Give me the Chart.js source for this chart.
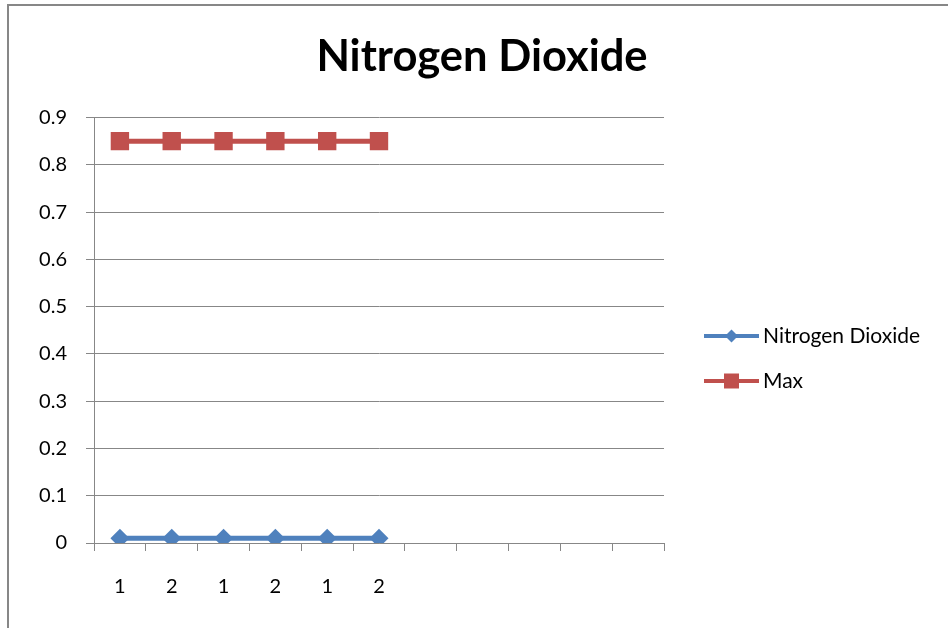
<!DOCTYPE html>
<html>
<head>
<meta charset="utf-8">
<script src="https://cdn.jsdelivr.net/npm/chart.js@4"></script>
<style>
  html, body { margin: 0; padding: 0; background: #fff; }
  #wrap { width: 948px; height: 628px; }
</style>
</head>
<body>
<div id="wrap"><canvas id="chart" width="948" height="628"></canvas></div>
<script>
// values
const categories = ["1", "2", "1", "2", "1", "2", "", "", "", "", ""];
const no2Values = [0.01, 0.01, 0.01, 0.01, 0.01, 0.01];
const maxValues = [0.85, 0.85, 0.85, 0.85, 0.85, 0.85];
const yTickValues = [0, 0.1, 0.2, 0.3, 0.4, 0.5, 0.6, 0.7, 0.8, 0.9];

const gridGrey = "#878787";
Chart.defaults.font.family = "Lato, 'Open Sans', sans-serif";
Chart.defaults.color = "#000";

// outer chart frame + Excel-style legend (line with marker)
const frameAndLegend = {
  id: "frameAndLegend",
  beforeDraw(chart) {
    const ctx = chart.ctx;
    ctx.save();
    ctx.strokeStyle = gridGrey;
    ctx.lineWidth = 2;
    ctx.beginPath();
    ctx.moveTo(8, 628);
    ctx.lineTo(8, 5);
    ctx.lineTo(948, 5);
    ctx.stroke();
    ctx.restore();
  },
  afterDraw(chart) {
    const ctx = chart.ctx;
    ctx.save();
    chart.data.datasets.forEach((ds, i) => {
      const y = 336 + i * 45;
      ctx.strokeStyle = ds.borderColor;
      ctx.lineWidth = 4;
      ctx.beginPath();
      ctx.moveTo(704, y);
      ctx.lineTo(759, y);
      ctx.stroke();
      ctx.fillStyle = ds.backgroundColor;
      ctx.beginPath();
      if (ds.pointStyle === "rectRot") {
        ctx.moveTo(731.5 - 6.5, y);
        ctx.lineTo(731.5, y - 6.5);
        ctx.lineTo(731.5 + 6.5, y);
        ctx.lineTo(731.5, y + 6.5);
        ctx.closePath();
      } else {
        ctx.rect(724, y - 7.5, 15, 15);
      }
      ctx.fill();
      ctx.fillStyle = "#000";
      ctx.font = "21px Lato, 'Open Sans', sans-serif";
      ctx.textBaseline = "middle";
      ctx.fillText(ds.label, 763, y);
    });
    ctx.restore();
  }
};

const chart = new Chart(document.getElementById("chart"), {
  type: "line",
  data: {
    labels: categories,
    datasets: [
      {
        label: "Nitrogen Dioxide",
        data: no2Values,
        borderColor: "#4F81BD",
        backgroundColor: "#4F81BD",
        borderWidth: 5,
        pointStyle: "rectRot",
        pointRadius: 9.5,
        pointBorderWidth: 0,
        tension: 0
      },
      {
        label: "Max",
        data: maxValues,
        borderColor: "#C0504D",
        backgroundColor: "#C0504D",
        borderWidth: 5,
        pointStyle: "rect",
        pointRadius: 13,
        pointBorderWidth: 0,
        tension: 0
      }
    ]
  },
  options: {
    responsive: false,
    animation: false,
    devicePixelRatio: 1,
    layout: { padding: { left: 16, right: 0, top: 0, bottom: 0 } },
    plugins: {
      legend: { display: false },
      tooltip: { enabled: false },
      title: {
        display: true,
        text: "Nitrogen Dioxide",
        color: "#000",
        font: { size: 43.5, weight: "bold" },
        padding: { top: 31, bottom: 34.3 }
      }
    },
    scales: {
      x: {
        offset: true,
        grid: { offset: true, drawOnChartArea: false, tickLength: 8, color: gridGrey },
        border: { color: gridGrey },
        ticks: { font: { size: 20 }, padding: 24, maxRotation: 0, autoSkip: false },
        afterFit: s => { s.height = 85; }
      },
      y: {
        min: 0,
        max: 0.9,
        grid: { tickLength: 8, color: gridGrey },
        border: { color: gridGrey },
        ticks: { font: { size: 20 }, padding: 19, callback: v => String(v) },
        afterBuildTicks: s => { s.ticks = yTickValues.map(v => ({ value: v })); },
        afterFit: s => { s.width = 78; }
      },
      yRight: {
        position: "right",
        grid: { display: false },
        ticks: { display: false },
        border: { display: false },
        afterFit: s => { s.width = 284; }
      }
    }
  },
  plugins: [frameAndLegend]
});
</script>
</body>
</html>
